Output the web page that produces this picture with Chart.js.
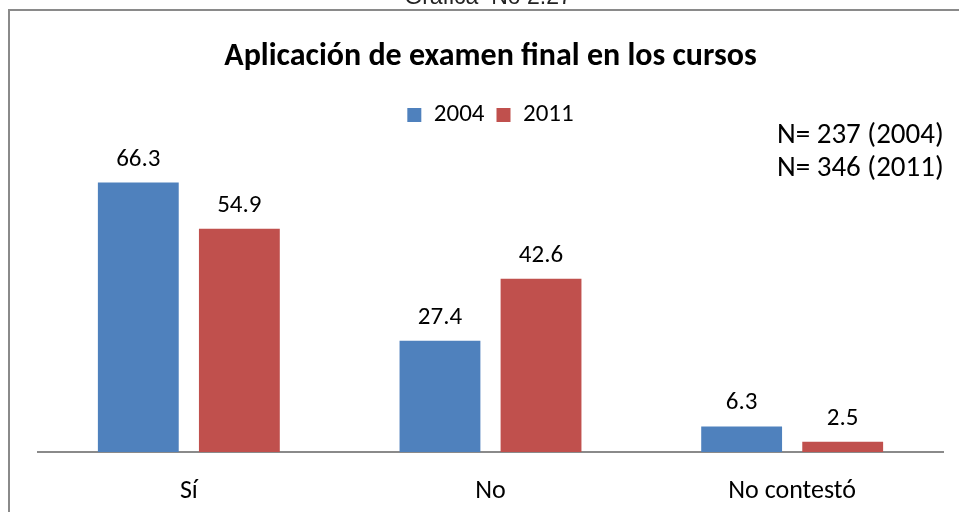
<!DOCTYPE html>
<html>
<head>
<meta charset="utf-8">
<script src="https://cdn.jsdelivr.net/npm/chart.js@4"></script>
<style>
  body { margin: 0; background: #fff; }
  #wrap { position: relative; width: 959px; height: 512px; overflow: hidden; }
  #frame { position: absolute; left: 8px; top: 9px; width: 1000px; height: 600px;
           border-left: 2px solid #8a8a8a; border-top: 2px solid #8a8a8a; }
  canvas { position: absolute; left: 0; top: 0; }
</style>
</head>
<body>
<div id="wrap">
  <div id="frame"></div>
  <canvas id="chart" width="959" height="512"></canvas>
</div>
<script>
  const categories = ["Sí", "No", "No contestó"];
  const values2004 = [66.3, 27.4, 6.3];
  const values2011 = [54.9, 42.6, 2.5];
  const seriesNames = ["2004", "2011"];
  const noteLines = ["N= 237 (2004)", "N= 346 (2011)"];
  const yMax = 77.4;

  const font = "Carlito, Calibri, Lato, sans-serif";

  // valores encima de cada barra + nota N= y encabezado cortado
  const extras = {
    id: "extras",
    afterDatasetsDraw(chart) {
      const ctx = chart.ctx;
      ctx.save();
      ctx.fillStyle = "#000";
      ctx.font = "25px " + font;
      ctx.textAlign = "center";
      ctx.textBaseline = "alphabetic";
      chart.data.datasets.forEach((ds, i) => {
        chart.getDatasetMeta(i).data.forEach((bar, j) => {
          ctx.fillText(ds.data[j].toFixed(1), bar.x, bar.y - 17);
        });
      });
      ctx.font = "29px " + font;
      ctx.textAlign = "left";
      ctx.textBaseline = "middle";
      ctx.fillText(noteLines[0], 777, 136);
      ctx.fillText(noteLines[1], 777, 169);
      ctx.font = "23px 'Liberation Sans', Arial, sans-serif";
      ctx.textAlign = "center";
      ctx.textBaseline = "alphabetic";
      ctx.fillStyle = "#222";
      ctx.fillText("Gráfica  No 2.27", 488, 4);
      ctx.restore();
    },
  };

  new Chart(document.getElementById("chart"), {
    type: "bar",
    data: {
      labels: categories,
      datasets: [
        {
          label: seriesNames[0],
          data: values2004,
          backgroundColor: "#4f81bd",
          categoryPercentage: 0.67,
          barPercentage: 0.8,
        },
        {
          label: seriesNames[1],
          data: values2011,
          backgroundColor: "#c0504d",
          categoryPercentage: 0.67,
          barPercentage: 0.8,
        },
      ],
    },
    options: {
      responsive: false,
      animation: false,
      layout: { padding: { left: 38, right: 16, top: 38, bottom: 0 } },
      plugins: {
        title: {
          display: true,
          text: "Aplicación de examen final en los cursos",
          color: "#000",
          font: { family: font, size: 32, weight: "bold" },
          padding: { top: 0, bottom: 14 },
        },
        legend: {
          position: "top",
          labels: {
            color: "#000",
            font: { family: font, size: 25 },
            boxWidth: 14,
            boxHeight: 14,
            padding: 12,
          },
        },
        tooltip: { enabled: false },
      },
      scales: {
        x: {
          grid: { display: false },
          border: { color: "#8a8a8a", width: 2 },
          ticks: { color: "#000", font: { family: font, size: 26 }, padding: 16 },
          afterFit(scale) { scale.height = 60; },
        },
        y: {
          display: false,
          min: 0,
          max: yMax,
        },
      },
    },
    plugins: [extras],
  });
</script>
</body>
</html>
